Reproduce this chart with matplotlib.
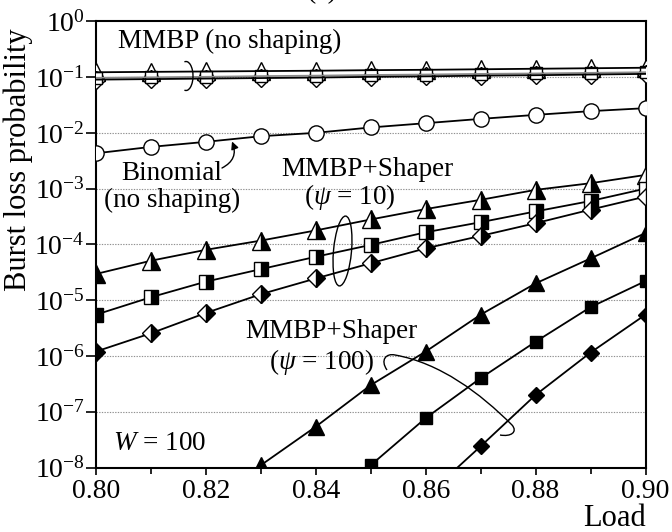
import numpy as np
import matplotlib
matplotlib.use('Agg')
import matplotlib.pyplot as plt
from matplotlib.patches import Arc, Ellipse, PathPatch
from matplotlib.path import Path
from matplotlib.ticker import FixedLocator, FuncFormatter, NullLocator

plt.rcParams['font.family'] = ['Liberation Serif', 'DejaVu Serif']
plt.rcParams['mathtext.fontset'] = 'custom'
plt.rcParams['mathtext.rm'] = 'Liberation Serif'
plt.rcParams['mathtext.it'] = 'Liberation Serif:italic'
plt.rcParams['mathtext.bf'] = 'Liberation Serif:bold'

# ---------------- data ----------------
loads = [0.80, 0.81, 0.82, 0.83, 0.84, 0.85, 0.86, 0.87, 0.88, 0.89, 0.90]

# MMBP, no shaping
mmbp_tri = [0.122, 0.124, 0.126, 0.128, 0.130, 0.133, 0.135, 0.138, 0.141, 0.144, 0.147]
mmbp_sq = [0.097, 0.099, 0.101, 0.104, 0.106, 0.109, 0.111, 0.114, 0.116, 0.119, 0.122]
mmbp_dia = [0.090, 0.092, 0.094, 0.096, 0.098, 0.101, 0.103, 0.106, 0.108, 0.111, 0.114]

# Binomial, no shaping
binom = [0.0043, 0.0056, 0.0069, 0.0087, 0.0100, 0.0125, 0.0149, 0.0178, 0.0210, 0.0245, 0.0277]

# MMBP + shaper, psi = 10
s10_tri = [2.95e-5, 5.1e-5, 8.0e-5, 1.17e-4, 1.78e-4, 2.8e-4, 4.3e-4, 6.3e-4, 9.5e-4, 1.25e-3, 1.76e-3]
s10_sq = [5.5e-6, 1.13e-5, 2.15e-5, 3.6e-5, 6.0e-5, 9.8e-5, 1.65e-4, 2.5e-4, 3.9e-4, 6.0e-4, 1.0e-3]
s10_dia = [1.2e-6, 2.55e-6, 5.9e-6, 1.28e-5, 2.45e-5, 4.6e-5, 8.5e-5, 1.42e-4, 2.4e-4, 4.2e-4, 7.2e-4]

# MMBP + shaper, psi = 100
s100_tri_load = [0.83, 0.84, 0.85, 0.86, 0.87, 0.88, 0.89, 0.90]
s100_tri = [1.1e-8, 5.4e-8, 3.0e-7, 1.2e-6, 5.5e-6, 2.0e-5, 5.6e-5, 1.6e-4]
s100_sq_load = [0.85, 0.86, 0.87, 0.88, 0.89, 0.90]
s100_sq = [1.1e-8, 7.7e-8, 4.0e-7, 1.8e-6, 7.5e-6, 2.2e-5]
s100_dia_load = [0.86, 0.87, 0.88, 0.89, 0.90]
s100_dia = [3.0e-9, 2.4e-8, 2.0e-7, 1.15e-6, 5.5e-6]

xticks_major = [0.80, 0.82, 0.84, 0.86, 0.88, 0.90]
xticks_minor = [0.81, 0.83, 0.85, 0.87, 0.89]
yticks = [1e0, 1e-1, 1e-2, 1e-3, 1e-4, 1e-5, 1e-6, 1e-7, 1e-8]

# ---------------- figure ----------------
W, H = 672, 532
fig = plt.figure(figsize=(W / 100, H / 100), dpi=100)
axL, axR, axT, axB = 96, 645.5, 21.3, 467.5
ax = fig.add_axes([axL / W, 1 - axB / H, (axR - axL) / W, (axB - axT) / H])


def P(x, y):
    """reference pixel -> figure fraction"""
    return (x / W, 1 - y / H)


ax.set_yscale('log')
ax.set_xlim(0.80, 0.90)
ax.set_ylim(1e-8, 1e0)

for g in yticks[1:-1]:
    ax.axhline(g, color='#909090', ls=(0, (1.2, 1.2)), lw=0.8, zorder=0.5)

lw = 1.3
# MMBP no shaping: markers below lines
for vals, mk, ms in [(mmbp_tri, '^', 13), (mmbp_dia, 'D', 9.5), (mmbp_sq, 's', 9)]:
    ax.plot(loads, vals, ls='none', marker=mk, ms=ms, mfc='white', mec='black',
            mew=1.0, zorder=3)
ax.plot(loads, mmbp_tri, color='black', lw=lw, zorder=4)
ax.plot(loads, mmbp_sq, color='#8a8a8a', lw=lw, zorder=4)
ax.plot(loads, mmbp_dia, color='black', lw=lw, zorder=4)

# Binomial
ax.plot(loads, binom, color='black', lw=lw, marker='o', ms=11, mfc='white',
        mec='black', mew=1.0, zorder=3)

# psi = 10 (half-filled)
for vals, mk, ms in [(s10_tri, '^', 12.5), (s10_sq, 's', 9.5), (s10_dia, 'D', 9)]:
    ax.plot(loads, vals, color='black', lw=lw, marker=mk, ms=ms, fillstyle='right',
            mfc='black', mfcalt='white', mec='black', mew=1.0, zorder=3)

# psi = 100 (filled)
ax.plot(s100_tri_load, s100_tri, color='black', lw=lw, marker='^', ms=11, mfc='black',
        mec='black', zorder=3)
ax.plot(s100_sq_load, s100_sq, color='black', lw=lw, marker='s', ms=8.5, mfc='black',
        mec='black', zorder=3)
ax.plot(s100_dia_load, s100_dia, color='black', lw=lw, marker='D', ms=8, mfc='black',
        mec='black', zorder=3)

# ---------------- axes styling ----------------
ax.yaxis.set_major_locator(FixedLocator(yticks))
ax.yaxis.set_minor_locator(NullLocator())
ax.yaxis.set_major_formatter(FuncFormatter(lambda v, p: '10$^{%d}$' % int(round(np.log10(v)))))
ax.xaxis.set_major_locator(FixedLocator(xticks_major))
ax.xaxis.set_minor_locator(FixedLocator(xticks_minor))
ax.xaxis.set_major_formatter(FuncFormatter(lambda v, p: '%.2f' % v))

ax.tick_params(axis='y', which='major', direction='out', length=7, width=1.2,
               labelsize=20, pad=1)
ax.tick_params(axis='x', which='major', direction='out', length=5, width=1.2,
               labelsize=20, pad=3)
ax.tick_params(axis='x', which='minor', direction='out', length=4, width=1.2)
for sp in ax.spines.values():
    sp.set_linewidth(1.5)

ax.set_ylabel('Burst loss probability', fontsize=22)
ax.yaxis.set_label_coords((18 - axL) / (axR - axL), (axB - 160) / (axB - axT))
ax.yaxis.label.set_va('center')
ax.yaxis.label.set_ha('center')
ax.set_xlabel('Load', fontsize=22)
ax.xaxis.set_label_coords(1.0, (axB - 518) / (axB - axT))
ax.xaxis.label.set_ha('right')
ax.xaxis.label.set_va('center')

# partially visible title at the top
fig.text(322 / W, 1 + 1.5 / H, '(a)', fontsize=20, ha='center', va='baseline')

# ---------------- annotations ----------------
fs = 19.5
tr = fig.transFigure
fig.text(*P(118, 41.7), 'MMBP (no shaping)', fontsize=fs, ha='left', va='center')
fig.text(*P(171.5, 173), 'Binomial', fontsize=fs, ha='center', va='center')
fig.text(*P(172, 200), '(no shaping)', fontsize=fs, ha='center', va='center')
fig.text(*P(367.5, 170), 'MMBP+Shaper', fontsize=fs, ha='center', va='center')
fig.text(*P(350, 196.7), r'($\psi$ = 10)', fontsize=fs, ha='center', va='center')
fig.text(*P(331.7, 331.7), 'MMBP+Shaper', fontsize=fs, ha='center', va='center')
fig.text(*P(322, 361.7), r'($\psi$ = 100)', fontsize=fs, ha='center', va='center')
fig.text(*P(159.5, 443.3), r'$W$ = 100', fontsize=fs, ha='center', va='center')

# bracket for MMBP no shaping
cx, cy = P(186, 76)
fig.add_artist(Arc((cx, cy), 14 / W, 29 / H, theta1=-95, theta2=95, transform=tr,
                   color='black', lw=1.0, zorder=6))

# arrow for Binomial
ax.annotate('', xy=P(232, 141.5), xycoords='figure fraction',
            xytext=P(222, 168), textcoords='figure fraction',
            arrowprops=dict(arrowstyle='-|>', color='black', lw=1.0,
                            connectionstyle='arc3,rad=0.45', mutation_scale=11,
                            shrinkA=0, shrinkB=0))

# ellipse for psi = 10
ex, ey = P(342.5, 251)
fig.add_artist(Ellipse((ex, ey), 18 / W, 70 / H, angle=-4, transform=tr, fill=False,
                       color='black', lw=1.0, zorder=6))

# curve for psi = 100
pts = [(387, 370), (380, 360), (386, 353), (395, 355),
       (440, 363), (480, 393), (512, 425),
       (518, 432), (511, 437), (500, 435)]
verts = [P(x, y) for x, y in pts]
codes = [Path.MOVETO] + [Path.CURVE4] * 9
fig.add_artist(PathPatch(Path(verts, codes), transform=tr, fill=False,
                         edgecolor='black', lw=1.0, zorder=6))

fig.savefig('out.png', dpi=100)
